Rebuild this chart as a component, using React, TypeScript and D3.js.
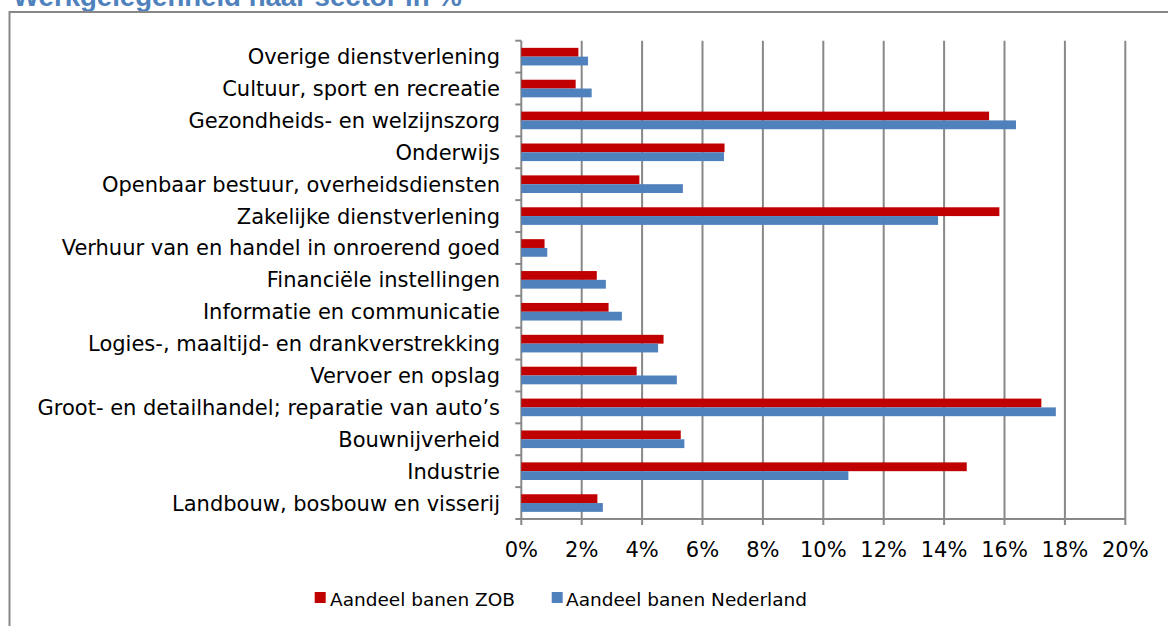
import React from "react";
import * as d3 from "d3";

const categories = [
  "Overige dienstverlening",
  "Cultuur, sport en recreatie",
  "Gezondheids- en welzijnszorg",
  "Onderwijs",
  "Openbaar bestuur, overheidsdiensten",
  "Zakelijke dienstverlening",
  "Verhuur van en handel in onroerend goed",
  "Financiële instellingen",
  "Informatie en communicatie",
  "Logies-, maaltijd- en drankverstrekking",
  "Vervoer en opslag",
  "Groot- en detailhandel; reparatie van auto’s",
  "Bouwnijverheid",
  "Industrie",
  "Landbouw, bosbouw en visserij",
];

const zob = [1.89, 1.8, 15.49, 6.73, 3.91, 15.83, 0.77, 2.5, 2.89, 4.71, 3.82, 17.22, 5.28, 14.75, 2.52];
const nederland = [2.21, 2.33, 16.38, 6.71, 5.35, 13.8, 0.86, 2.8, 3.33, 4.53, 5.15, 17.7, 5.4, 10.83, 2.7];

const ticks = [0, 2, 4, 6, 8, 10, 12, 14, 16, 18, 20];
const seriesNames = ["Aandeel banen ZOB", "Aandeel banen Nederland"];
const colors = ["#C00000", "#4F81BD"];

export default function App() {
  const W = 1168;
  const H = 626;
  const x = d3.scaleLinear().domain([0, 20]).range([521.3, 1125.3]);
  const y = d3.scaleBand<string>().domain(categories).range([40.7, 519]).paddingInner(0);
  const bw = y.bandwidth();
  const barH = bw * 0.276;
  const grid = "#888888";
  const font = "'DejaVu Sans', Verdana, sans-serif";
  const bottom = 519;
  const top = 40.7;

  return (
    <svg width={W} height={H} style={{ position: "absolute", left: 0, top: 0, background: "#fff" }}>
      <text x={13} y={6} fontFamily="'Liberation Sans', Arial, sans-serif" fontWeight="bold" fontSize={27.6} fill="#4F81BD">
        Werkgelegenheid naar sector in %
      </text>
      <rect x={9.5} y={12} width={1300} height={800} fill="none" stroke={grid} strokeWidth={2} />
      {ticks.map((t) => (
        <line key={"g" + t} x1={x(t)} x2={x(t)} y1={top} y2={bottom + 6} stroke={grid} strokeWidth={2} />
      ))}
      <line x1={x(0)} x2={x(20)} y1={bottom} y2={bottom} stroke={grid} strokeWidth={2} />
      {categories.map((c, i) => (
        <line key={"t" + i} x1={x(0) - 6} x2={x(0)} y1={y(c)!} y2={y(c)!} stroke={grid} strokeWidth={2} />
      ))}
      <line x1={x(0) - 6} x2={x(0)} y1={bottom} y2={bottom} stroke={grid} strokeWidth={2} />
      {categories.map((c, i) => {
        const cy = y(c)! + bw / 2;
        return (
          <g key={"b" + i}>
            <rect x={x(0)} y={cy - barH} width={x(zob[i]) - x(0)} height={barH} fill={colors[0]} />
            <rect x={x(0)} y={cy} width={x(nederland[i]) - x(0)} height={barH} fill={colors[1]} />
          </g>
        );
      })}
      {categories.map((c, i) => (
        <text key={"l" + i} x={500} y={y(c)! + bw / 2 + 7.5} textAnchor="end" fontFamily={font} fontSize={21} fill="#000">
          {c}
        </text>
      ))}
      {ticks.map((t) => (
        <text key={"x" + t} x={x(t)} y={557} textAnchor="middle" fontFamily={font} fontSize={21} fill="#000">
          {t + "%"}
        </text>
      ))}
      <rect x={314.7} y={592} width={11} height={11} fill={colors[0]} />
      <text x={330} y={606} fontFamily={font} fontSize={18.5} fill="#000">{seriesNames[0]}</text>
      <rect x={551.7} y={592} width={11} height={11} fill={colors[1]} />
      <text x={566} y={606} fontFamily={font} fontSize={18.5} fill="#000">{seriesNames[1]}</text>
    </svg>
  );
}
